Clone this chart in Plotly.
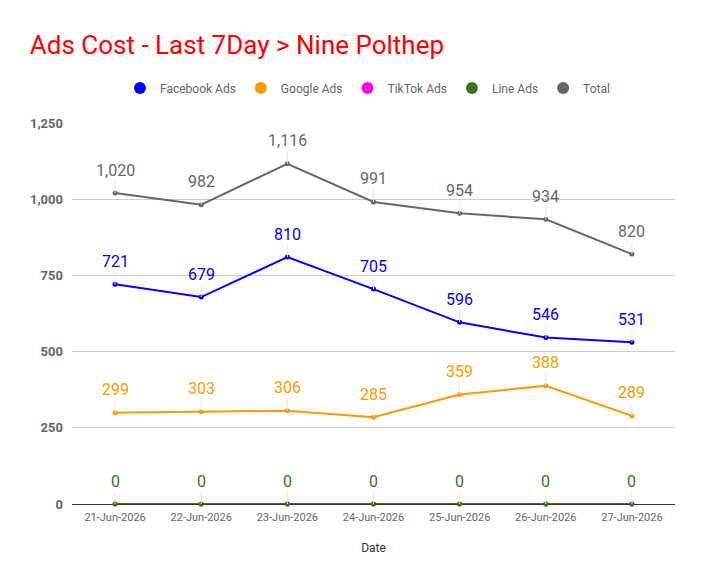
import plotly.graph_objects as go

dates = ["21-Jun-2026", "22-Jun-2026", "23-Jun-2026", "24-Jun-2026",
         "25-Jun-2026", "26-Jun-2026", "27-Jun-2026"]
facebook = [721, 679, 810, 705, 596, 546, 531]
google = [299, 303, 306, 285, 359, 388, 289]
tiktok = [0, 0, 0, 0, 0, 0, 0]
line_ads = [0, 0, 0, 0, 0, 0, 0]
total = [1020, 982, 1116, 991, 954, 934, 820]

y_ticks = [0, 250, 500, 750, 1000, 1250]

series = [
    ("Facebook Ads", facebook, "#0000ff", True),
    ("Google Ads", google, "#ff9900", True),
    ("TikTok Ads", tiktok, "#ff00ff", False),
    ("Line Ads", line_ads, "#38761d", True),
    ("Total", total, "#666666", True),
]

fig = go.Figure()

# actual lines (legend drawn by dummy traces below so it shows dots only)
for name, vals, color, _ in series:
    fig.add_trace(go.Scatter(
        x=dates, y=vals, mode="lines+markers", name=name,
        line=dict(color=color, width=2),
        marker=dict(color=color, size=5),
        cliponaxis=False, showlegend=False,
    ))

for name, vals, color, _ in series:
    fig.add_trace(go.Scatter(
        x=[dates[0]], y=[None], mode="markers", name=name,
        marker=dict(color=color, size=12, symbol="circle"),
        showlegend=True,
    ))

# data labels with small leader lines
for name, vals, color, show in series:
    if not show:
        continue
    for d, v in zip(dates, vals):
        fig.add_annotation(
            x=d, y=v, text=f"{v:,}", showarrow=True,
            arrowhead=0, arrowwidth=1, arrowcolor="#e6e6e6",
            ax=0, ay=-23, standoff=0,
            font=dict(family="Roboto", size=16, color=color),
        )

fig.update_layout(
    width=704, height=585,
    paper_bgcolor="white", plot_bgcolor="white",
    margin=dict(l=64, r=37, t=115, b=89),
    font=dict(family="Roboto", color="#666666"),
    title=dict(text="Ads Cost - Last 7Day > Nine Polthep",
               x=0.031, xanchor="left", y=0.937, yanchor="middle",
               font=dict(family="Roboto", size=26, color="#ff0000")),
    legend=dict(orientation="h", x=0.49, xanchor="center", y=1.092, yanchor="middle",
                font=dict(size=12, color="#666666"), itemsizing="constant",
                itemwidth=30, traceorder="normal"),
    xaxis=dict(
        type="category", range=[-0.5, 6.5],
        showgrid=False, showline=False, ticks="", ticklabelstandoff=5,
        tickfont=dict(size=11, color="#666666"),
        title=dict(text="Date", font=dict(size=12, color="#333333"), standoff=20),
    ),
    yaxis=dict(
        range=[0, 1250], tickvals=y_ticks, tickformat=",",
        showgrid=True, gridcolor="#cccccc", gridwidth=1,
        zeroline=True, zerolinecolor="#333333", zerolinewidth=1,
        showline=False, ticks="", ticklabelstandoff=8,
        tickfont=dict(size=13, color="#666666", weight="bold"),
    ),
)

fig.write_html("out.html")
